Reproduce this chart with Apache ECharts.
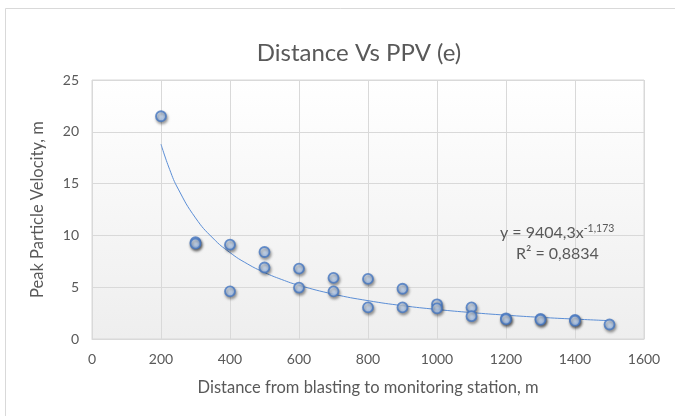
<!DOCTYPE html>
<html>
<head>
<meta charset="utf-8">
<script src="https://cdn.jsdelivr.net/npm/echarts@6/dist/echarts.min.js"></script>
<style>
html,body{margin:0;padding:0;background:#fff;}
#chart{width:675px;height:416px;}
</style>
</head>
<body>
<div id="chart"></div>
<script>
// Measured points: distance (m) and peak particle velocity
const distances = [200, 300, 300, 400, 400, 500, 500, 600, 600, 700, 700, 800, 800, 900, 900, 1000, 1000, 1100, 1100, 1200, 1200, 1300, 1300, 1400, 1400, 1500];
const ppv       = [21.5, 9.35, 9.2, 9.1, 4.6, 8.4, 6.9, 6.8, 4.95, 5.9, 4.6, 5.8, 3.05, 4.85, 3.05, 3.35, 2.95, 3.05, 2.2, 2.0, 1.9, 1.95, 1.85, 1.85, 1.75, 1.4];

// Power trendline as drawn (y = 9404,3x^-1,173)
const trendX = [200, 225, 250, 300, 350, 400, 450, 500, 550, 600, 700, 800, 900, 1000, 1100, 1200, 1300, 1400, 1500];
const trendY = [18.80, 16.37, 14.47, 11.69, 9.75, 8.34, 7.26, 6.42, 5.74, 5.18, 4.33, 3.70, 3.22, 2.85, 2.55, 2.30, 2.09, 1.92, 1.77];

const titleText = 'Distance Vs PPV (e)';
const xName = 'Distance from blasting to monitoring station, m';
const yName = 'Peak Particle Velocity, m';
const eqMain = 'y = 9404,3x';
const eqExp = '-1,173';
const r2Text = 'R² = 0,8834';

const FONT = 'Lato';
const TXT = '#595959';
const GRID = '#d9d9d9';

const scatterData = distances.map((d, i) => [d, ppv[i]]);
const trendData = trendX.map((d, i) => [d, trendY[i]]);

const chart = echarts.init(document.getElementById('chart'), null, {renderer: 'canvas'});
chart.setOption({
  animation: false,
  backgroundColor: '#ffffff',
  textStyle: {fontFamily: FONT, color: TXT},
  title: {
    text: titleText,
    left: 354, top: 36, textAlign: 'center',
    textStyle: {fontFamily: FONT, fontSize: 24, fontWeight: 'normal', color: TXT}
  },
  grid: {
    left: 92, right: 31, top: 80, bottom: 77,
    show: true,
    borderColor: GRID, borderWidth: 1,
    backgroundColor: {
      type: 'linear', x: 0, y: 0, x2: 0, y2: 1,
      colorStops: [{offset: 0, color: '#ffffff'}, {offset: 1, color: '#eeeeee'}]
    }
  },
  xAxis: {
    type: 'value', min: 0, max: 1600, interval: 200,
    name: xName, nameLocation: 'middle', nameGap: 40,
    nameTextStyle: {fontFamily: FONT, fontSize: 16.5, color: TXT},
    axisLine: {show: true, lineStyle: {color: GRID}},
    axisTick: {show: false},
    axisLabel: {margin: 13, fontFamily: FONT, fontSize: 14, color: TXT, formatter: v => String(v)},
    splitLine: {show: true, lineStyle: {color: GRID, width: 1}}
  },
  yAxis: {
    type: 'value', min: 0, max: 25, interval: 5,
    name: yName, nameLocation: 'middle', nameGap: 46, nameRotate: 90,
    nameTextStyle: {fontFamily: FONT, fontSize: 16.5, color: TXT},
    axisLine: {show: false},
    axisTick: {show: false},
    axisLabel: {margin: 13, fontFamily: FONT, fontSize: 14, color: TXT, formatter: v => String(v)},
    splitLine: {show: true, lineStyle: {color: GRID, width: 1}}
  },
  graphic: [
    {
      type: 'rect', silent: true, z: -1,
      shape: {x: 5.5, y: 8.5, width: 700, height: 440},
      style: {fill: 'none', stroke: '#d9d9d9', lineWidth: 1}
    },
    {
      type: 'text', left: 500, top: 223, z: 100,
      style: {
        text: '{m|' + eqMain + '}{s|' + eqExp + '}',
        rich: {
          m: {fontFamily: FONT, fontSize: 16, fill: TXT, color: TXT},
          s: {fontFamily: FONT, fontSize: 10.5, fill: TXT, color: TXT, verticalAlign: 'top', padding: [0, 0, 9, 0]}
        }
      }
    },
    {
      type: 'text', left: 516, top: 246, z: 100,
      style: {text: r2Text, fontFamily: FONT, fontSize: 16, fill: TXT}
    }
  ],
  series: [
    {
      type: 'line', data: trendData, smooth: true, showSymbol: false, symbol: 'none',
      lineStyle: {color: '#5b8ed6', width: 1}, z: 2, silent: true
    },
    {
      type: 'scatter', data: scatterData, symbol: 'circle', symbolSize: 10, z: 3,
      itemStyle: {
        color: {
          type: 'radial', x: 0.4, y: 0.35, r: 0.7,
          colorStops: [{offset: 0, color: '#e3eefc'}, {offset: 1, color: '#93b6e8'}]
        },
        borderColor: '#4677c0', borderWidth: 1.8,
        shadowBlur: 3, shadowColor: 'rgba(0,0,0,0.45)', shadowOffsetX: 1, shadowOffsetY: 2
      }
    }
  ]
});
</script>
</body>
</html>
